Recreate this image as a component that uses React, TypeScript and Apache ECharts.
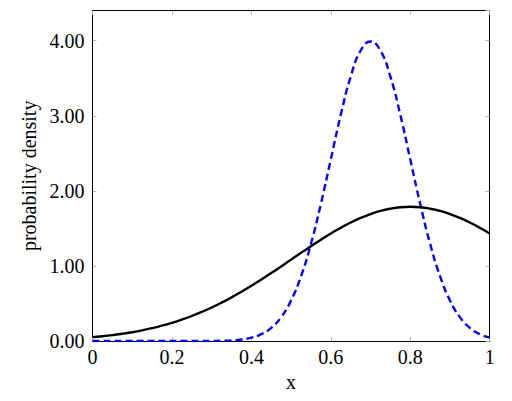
import React, { useEffect, useRef } from "react";
import * as echarts from "echarts";

const xs = [
  0, 0.025, 0.05, 0.075, 0.1, 0.125, 0.15, 0.175, 0.2, 0.225, 0.25, 0.275, 0.3, 0.325, 0.35, 0.375, 0.4,
  0.425, 0.45, 0.475, 0.5, 0.525, 0.55, 0.575, 0.6, 0.625, 0.65, 0.675, 0.7, 0.725, 0.75, 0.775, 0.8,
  0.825, 0.85, 0.875, 0.9, 0.925, 0.95, 0.975, 1,
];
const solidDensity = [
  0.051, 0.064, 0.079, 0.096, 0.117, 0.142, 0.171, 0.204, 0.242, 0.285, 0.333, 0.387, 0.446, 0.511, 0.581,
  0.656, 0.735, 0.819, 0.905, 0.994, 1.084, 1.175, 1.263, 1.35, 1.432, 1.508, 1.578, 1.639, 1.691, 1.733,
  1.763, 1.782, 1.788, 1.782, 1.763, 1.733, 1.691, 1.639, 1.578, 1.508, 1.432,
];
const dashedDensity = [
  0, 0, 0, 0, 0, 0, 0, 0, 0, 0, 0, 0, 0.001, 0.004, 0.009, 0.02, 0.044, 0.091, 0.175, 0.318, 0.54, 0.863,
  1.295, 1.827, 2.42, 3.012, 3.521, 3.867, 3.99, 3.867, 3.521, 3.012, 2.42, 1.827, 1.295, 0.863, 0.54,
  0.318, 0.175, 0.091, 0.044,
];
const xTicks = [0, 0.2, 0.4, 0.6, 0.8, 1];
const yTicks = [0, 1, 2, 3, 4];

const FONT = "'Liberation Serif', 'DejaVu Serif', serif";

export default function App() {
  const ref = useRef<HTMLDivElement>(null);
  useEffect(() => {
    if (!ref.current) return;
    const chart = echarts.init(ref.current, undefined, { renderer: "svg" });
    const tickStyle = { show: true, inside: true, length: 4, lineStyle: { color: "#b0b0b0", width: 1 } };
    const lineBlack = { show: true, onZero: false, lineStyle: { color: "#000", width: 1 } };
    chart.setOption({
      animation: false,
      backgroundColor: "#fff",
      grid: { left: 92.5, right: 22.3, top: 10.7, bottom: 60, containLabel: false },
      xAxis: [
        {
          type: "value",
          min: 0,
          max: 1,
          interval: 0.2,
          position: "bottom",
          name: "x",
          nameLocation: "middle",
          nameGap: 27,
          nameTextStyle: { fontFamily: FONT, fontSize: 20, color: "#000" },
          axisLine: lineBlack,
          axisTick: tickStyle,
          splitLine: { show: false },
          axisLabel: {
            margin: 6,
            fontFamily: FONT,
            fontSize: 20,
            color: "#000",
            formatter: (v: number) => (xTicks.some((t) => Math.abs(t - v) < 1e-9) ? String(Math.round(v * 10) / 10) : ""),
          },
        },
        {
          type: "value",
          min: 0,
          max: 1,
          interval: 0.2,
          position: "top",
          axisLine: lineBlack,
          axisTick: tickStyle,
          axisLabel: { show: false },
          splitLine: { show: false },
        },
      ],
      yAxis: [
        {
          type: "value",
          min: 0,
          max: 4.4,
          interval: 1,
          position: "left",
          name: "probability density",
          nameLocation: "middle",
          nameGap: 54,
          nameTextStyle: { fontFamily: FONT, fontSize: 20, color: "#000" },
          axisLine: lineBlack,
          axisTick: tickStyle,
          splitLine: { show: false },
          axisLabel: {
            margin: 8,
            fontFamily: FONT,
            fontSize: 20,
            color: "#000",
            showMaxLabel: false,
            formatter: (v: number) => (yTicks.some((t) => Math.abs(t - v) < 1e-9) ? v.toFixed(2) : ""),
          },
        },
        {
          type: "value",
          min: 0,
          max: 4.4,
          interval: 1,
          position: "right",
          axisLine: lineBlack,
          axisTick: tickStyle,
          axisLabel: { show: false },
          splitLine: { show: false },
        },
      ],
      series: [
        {
          type: "line",
          data: xs.map((x, i) => [x, solidDensity[i]]),
          showSymbol: false,
          smooth: true,
          lineStyle: { color: "#000", width: 2.4 },
          z: 3,
        },
        {
          type: "line",
          data: xs.map((x, i) => [x, dashedDensity[i]]),
          showSymbol: false,
          smooth: true,
          lineStyle: { color: "#0000ff", width: 2.4, type: [7, 4] },
          z: 2,
        },
      ],
    });
    return () => chart.dispose();
  }, []);
  return <div ref={ref} style={{ position: "fixed", left: 0, top: 0, width: 512, height: 401 }} />;
}
